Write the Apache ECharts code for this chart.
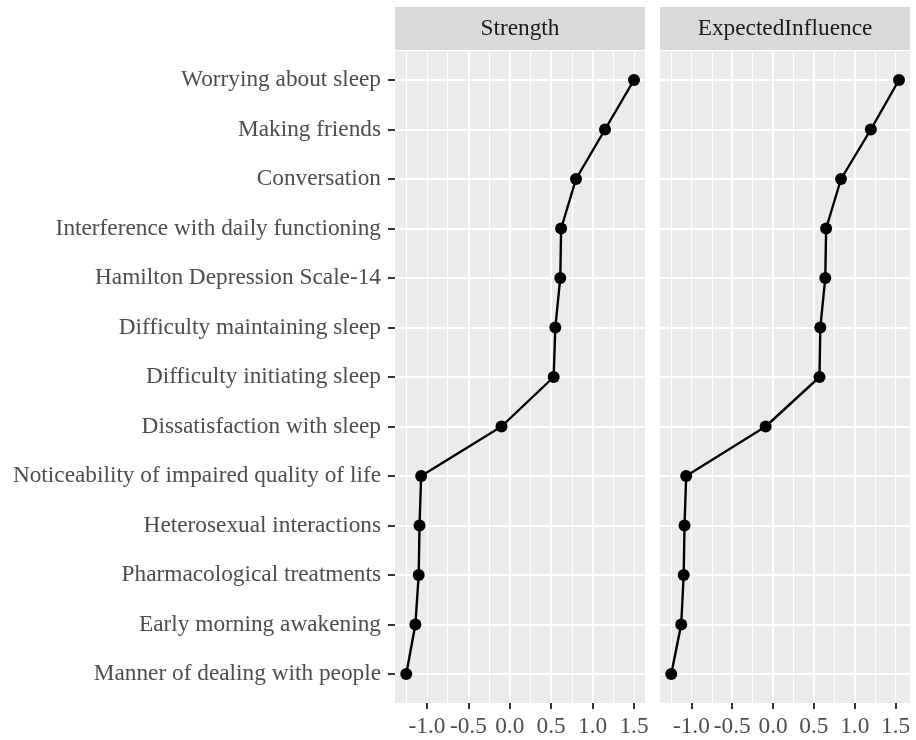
<!DOCTYPE html>
<html><head><meta charset="utf-8">
<script src="https://cdn.jsdelivr.net/npm/echarts@6/dist/echarts.min.js"></script>
<style>html,body{margin:0;padding:0;background:#fff}#c{width:916px;height:740px}</style>
</head><body><div id="c"></div>
<script>
const categories = [
  'Worrying about sleep',
  'Making friends',
  'Conversation',
  'Interference with daily functioning',
  'Hamilton Depression Scale-14',
  'Difficulty maintaining sleep',
  'Difficulty initiating sleep',
  'Dissatisfaction with sleep',
  'Noticeability of impaired quality of life',
  'Heterosexual interactions',
  'Pharmacological treatments',
  'Early morning awakening',
  'Manner of dealing with people'
];
const panelTitles = ['Strength', 'ExpectedInfluence'];
const strength = [1.50, 1.15, 0.80, 0.62, 0.61, 0.55, 0.53, -0.10, -1.07, -1.09, -1.10, -1.14, -1.25];
const expectedInfluence = [1.50, 1.16, 0.80, 0.62, 0.61, 0.55, 0.54, -0.11, -1.07, -1.09, -1.10, -1.13, -1.25];
const xTickValues = [-1.0, -0.5, 0.0, 0.5, 1.0, 1.5];
const xMin = -1.386, xMax = 1.633;     // visible panel range
const gridMin = -1.5, gridMax = 1.75;  // range of the gridline axis (multiples of the interval)

const FONT = '"Liberation Serif", "Times New Roman", serif';
const FS = 23.3;
const panelLeft = [395, 660];
const panelW = 250;
const panelTop = 51, panelH = 652;
const catTop = 80, catH = 594;
const pxPerUnit = panelW / (xMax - xMin);

const grid = [], xAxis = [], yAxis = [], series = [], graphic = [];
const seriesData = [strength, expectedInfluence];

panelLeft.forEach((L, p) => {
  const gBg = grid.length;
  grid.push({left: L, top: panelTop, width: panelW, height: panelH, show: true, backgroundColor: '#EBEBEB', borderWidth: 0});
  xAxis.push({type: 'value', gridIndex: gBg, min: xMin, max: xMax, show: false});
  yAxis.push({type: 'value', gridIndex: gBg, min: 0, max: 1, show: false});

  const gW = grid.length;
  const wLeft = L - (xMin - gridMin) * pxPerUnit;
  const wWidth = (gridMax - gridMin) * pxPerUnit;
  grid.push({left: wLeft, top: panelTop, width: wWidth, height: panelH, show: false});
  xAxis.push({type: 'value', gridIndex: gW, min: gridMin, max: gridMax, interval: 0.25, position: 'bottom',
    axisLine: {show: false, onZero: false}, axisTick: {show: false}, axisLabel: {show: false},
    splitLine: {show: true, showMinLine: false, showMaxLine: false, lineStyle: {color: '#FFFFFF', width: 1}}});
  xAxis.push({type: 'value', gridIndex: gW, min: gridMin, max: gridMax, interval: 0.5, position: 'bottom',
    axisLine: {show: false, onZero: false},
    axisTick: {show: true, length: 6, customValues: xTickValues, lineStyle: {color: '#333333', width: 2}},
    axisLabel: {show: true, margin: 12, color: '#4D4D4D', fontSize: FS, fontFamily: FONT,
      customValues: xTickValues, formatter: v => v.toFixed(1)},
    splitLine: {show: true, showMinLine: false, showMaxLine: false, lineStyle: {color: '#FFFFFF', width: 2}}});
  yAxis.push({type: 'value', gridIndex: gW, min: 0, max: 1, show: false});

  const gData = grid.length;
  grid.push({left: L, top: catTop, width: panelW, height: catH, show: false});
  const xData = xAxis.length;
  xAxis.push({type: 'value', gridIndex: gData, min: xMin, max: xMax, show: false});
  const yData = yAxis.length;
  yAxis.push({type: 'category', gridIndex: gData, data: categories, inverse: true, boundaryGap: false, position: 'left',
    axisLine: {show: false, onZero: false},
    axisTick: {show: p === 0, length: 7, interval: 0, lineStyle: {color: '#333333', width: 2}},
    axisLabel: {show: p === 0, margin: 14, color: '#4D4D4D', fontSize: FS, fontFamily: FONT, interval: 0},
    splitLine: {show: true, interval: 0, lineStyle: {color: '#FFFFFF', width: 2}}});

  series.push({type: 'line', xAxisIndex: xData, yAxisIndex: yData, data: seriesData[p],
    symbol: 'circle', symbolSize: 12, showSymbol: true,
    lineStyle: {color: '#000000', width: 2.4}, itemStyle: {color: '#000000'}, z: 5, animation: false});

  graphic.push({type: 'rect', shape: {x: L, y: 7, width: panelW, height: 43}, style: {fill: '#D9D9D9'}, silent: true});
  graphic.push({type: 'text', x: L + panelW / 2, y: 29, style: {text: panelTitles[p], fill: '#1A1A1A', fontSize: FS, fontFamily: FONT, align: 'center', verticalAlign: 'middle'}, silent: true});
});

const chart = echarts.init(document.getElementById('c'), null, {renderer: 'canvas'});
chart.setOption({animation: false, backgroundColor: '#FFFFFF', grid, xAxis, yAxis, series, graphic});
</script>
</body></html>
